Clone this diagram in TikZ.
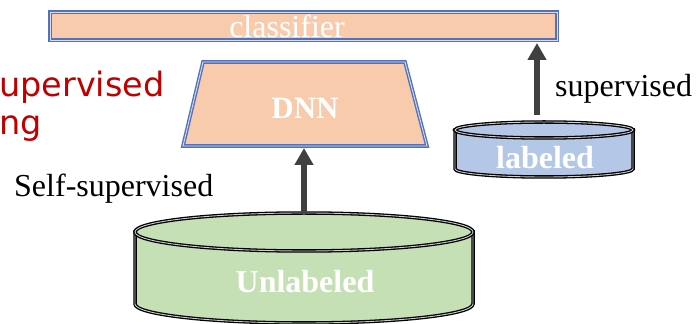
\documentclass[tikz,border=0pt]{standalone}
\usepackage{fontspec}
\setmainfont{Liberation Serif}
\newfontfamily\redsans{DejaVu Sans}
\usetikzlibrary{arrows.meta}
\definecolor{peach}{RGB}{248,203,173}
\definecolor{bordblue}{RGB}{84,114,188}
\definecolor{lblue}{RGB}{180,199,231}
\definecolor{lgreen}{RGB}{197,224,180}
\definecolor{darkred}{RGB}{192,0,0}
\definecolor{arrgray}{RGB}{64,64,64}
\tikzset{
  blueframe/.style={draw=bordblue,double=white!75!bordblue,line width=1.4pt,double distance=0.9pt,fill=peach},
  cylframe/.style={draw=black,double=white!80!black,line width=1.3pt,double distance=0.9pt},
  whitebold/.style={text=white,font=\fontsize{32}{32}\selectfont\bfseries,inner sep=0pt},
  blacklabel/.style={text=black,font=\fontsize{32}{32}\selectfont,inner sep=0pt,anchor=base west},
  redlabel/.style={text=darkred,font=\redsans\fontsize{33.5}{33.5}\selectfont,inner sep=0pt,anchor=base west},
  bigarrow/.style={draw=arrgray,line width=6pt,-{Triangle[width=18pt,length=17pt]}},
}
\begin{document}
\begin{tikzpicture}[x=1pt,y=1pt]
\useasboundingbox (0,0) rectangle (697,324);
% classifier bar
\draw[blueframe] (50,284) rectangle (557,312);
\node[text=white,font=\fontsize{32}{32}\selectfont,inner sep=0pt] (cls) at (287,298) {classifier};
\coordinate (clsb) at (537,281);
% DNN trapezoid
\draw[blueframe] (203,262) -- (405,262) -- (427,178) -- (183,178) -- cycle;
\node[font=\fontsize{31}{31}\selectfont\bfseries,text=white,inner sep=0pt] (dnn) at (305,216) {DNN};
\coordinate (dnnb) at (304,176);
% red partial title
\node[redlabel] (red1) at (-1,227) {upervised};
\node[redlabel] (red2) at (-1,189) {ng};
% labeled cylinder
\path[fill=lblue,cylframe] (455,194) -- (455,155) arc[start angle=180,end angle=360,x radius=89,y radius=8] -- (633,194) -- cycle;
\draw[fill=lblue,cylframe] (544,194) ellipse[x radius=89,y radius=8];
\node[whitebold] (lab) at (545,166) {labeled};
\coordinate (labt) at (537,209);
% Unlabeled cylinder
\path[fill=lgreen,cylframe] (135,92) -- (135,20) arc[start angle=180,end angle=360,x radius=169,y radius=19] -- (473,92) -- cycle;
\draw[fill=lgreen,cylframe] (304,92) ellipse[x radius=169,y radius=19];
\node[whitebold] (unl) at (305,42) {Unlabeled};
\coordinate (unlt) at (304,111);
% arrows
\draw[bigarrow] (unlt) -- (dnnb);
\draw[bigarrow] (labt) -- (clsb);
% labels
\node[blacklabel] (selfsup) at (14,127) {Self-supervised};
\node[blacklabel] (sup) at (555,227) {supervised};
\end{tikzpicture}
\end{document}
